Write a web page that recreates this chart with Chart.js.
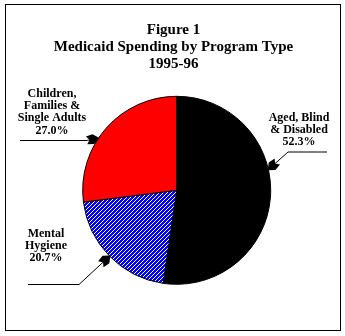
<!DOCTYPE html>
<html>
<head>
<meta charset="utf-8">
<script src="https://cdn.jsdelivr.net/npm/chart.js@4/dist/chart.umd.min.js"></script>
<style>
  html, body { margin: 0; padding: 0; background: #fff; }
  #wrap { width: 345px; height: 336px; }
</style>
</head>
<body>
<div id="wrap"><canvas id="chart" width="345" height="336"></canvas></div>
<script>
// data
const titleLines = ['Figure 1', 'Medicaid Spending by Program Type', '1995-96'];
const categories = ['Aged, Blind & Disabled', 'Mental Hygiene', 'Children, Families & Single Adults'];
const shares = [52.3, 20.7, 27.0];
const labelLines = [['Aged, Blind', '& Disabled'], ['Mental', 'Hygiene'], ['Children,', 'Families &', 'Single Adults']];

// hatched blue fill for the mental hygiene slice
const makeHatch = () => {
    const c = document.createElement('canvas');
    c.width = 4; c.height = 4;
    const g = c.getContext('2d');
    g.fillStyle = '#0000ff';
    g.fillRect(0, 0, 4, 4);
    g.fillStyle = '#ffffff';
    for (let i = 0; i < 4; i++) g.fillRect(i, 3 - i, 1, 1);
    return g.createPattern(c, 'repeat');
};

// label layout: text centre, first baseline, leader (start of horizontal, elbow), where on the slice the arrow lands
const labelLayout = [
    { x: 299, y: 121, lineStart: [327, 152], elbow: [288, 152], at: 0.41 },
    { x: 46, y: 237, lineStart: [28, 284.5], elbow: [79, 284.5], at: 0.5 },
    { x: 52, y: 97, lineStart: [20, 140.5], elbow: [86, 140.5], at: 0.42 }
];

const overlay = {
    id: 'overlay',
    beforeDraw(chart) {
        const ctx = chart.ctx;
        ctx.save();
        ctx.fillStyle = '#fff';
        ctx.fillRect(0, 0, chart.width, chart.height);
        ctx.restore();
    },
    afterDraw(chart) {
        const ctx = chart.ctx;
        ctx.save();
        // frame
        ctx.strokeStyle = '#000';
        ctx.lineWidth = 1;
        ctx.strokeRect(5.5, 4.5, 335, 326);

        // title
        ctx.fillStyle = '#000';
        ctx.textAlign = 'center';
        ctx.textBaseline = 'alphabetic';
        ctx.font = 'bold 15px "Liberation Serif"';
        titleLines.forEach((t, i) => ctx.fillText(t, 173.5, 34 + i * 17));

        // slice labels + leaders
        const arcs = chart.getDatasetMeta(0).data;
        ctx.font = 'bold 12px "Liberation Serif"';
        labelLayout.forEach((lay, i) => {
            const lines = labelLines[i].concat(shares[i].toFixed(1) + '%');
            lines.forEach((t, j) => ctx.fillText(t, lay.x, lay.y + j * 12.2));

            const a = arcs[i];
            const ang = a.startAngle + (a.endAngle - a.startAngle) * lay.at;
            const tx = a.x + Math.cos(ang) * a.outerRadius;
            const ty = a.y + Math.sin(ang) * a.outerRadius;

            ctx.beginPath();
            ctx.lineWidth = 1;
            ctx.moveTo(lay.lineStart[0], lay.lineStart[1]);
            ctx.lineTo(lay.elbow[0], lay.elbow[1]);
            ctx.lineTo(tx, ty);
            ctx.stroke();

            // arrowhead (chunky blob like the original)
            const dir = Math.atan2(ty - lay.elbow[1], tx - lay.elbow[0]);
            ctx.save();
            ctx.translate(tx, ty);
            ctx.rotate(dir);
            ctx.beginPath();
            ctx.moveTo(1, 0);
            ctx.lineTo(-5, -5);
            ctx.lineTo(-12, -4);
            ctx.lineTo(-9, 0);
            ctx.lineTo(-12, 4);
            ctx.lineTo(-5, 5);
            ctx.closePath();
            ctx.fill();
            ctx.restore();
        });
        ctx.restore();
    }
};

new Chart(document.getElementById('chart'), {
    type: 'pie',
    data: {
        labels: categories,
        datasets: [{
            data: shares,
            backgroundColor: ['#000000', makeHatch(), '#ff0000'],
            borderColor: '#000',
            borderWidth: 1
        }]
    },
    options: {
        responsive: false,
        animation: false,
        radius: 94,
        layout: { padding: { left: 82.7, right: 74.3, top: 96.3, bottom: 51.7 } },
        plugins: {
            legend: { display: false },
            tooltip: { enabled: false },
            title: { display: false }
        }
    },
    plugins: [overlay]
});
</script>
</body>
</html>
